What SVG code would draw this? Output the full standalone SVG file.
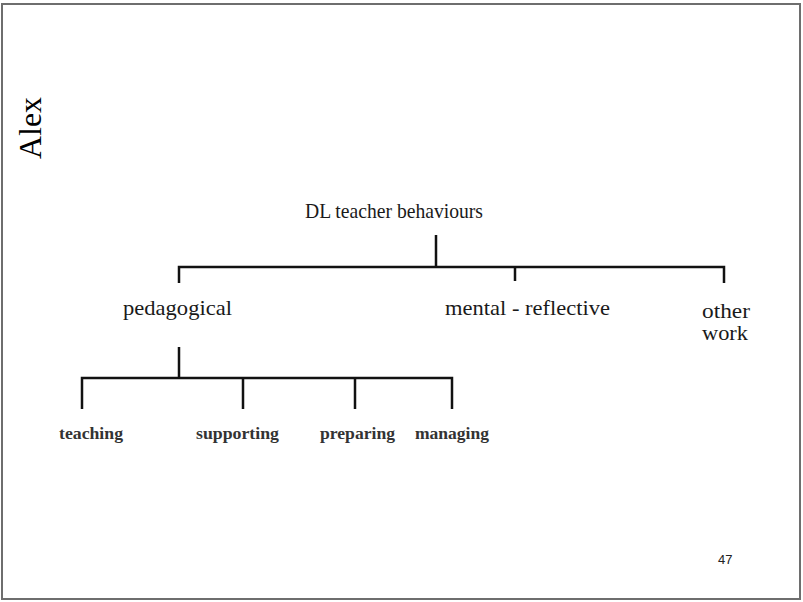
<svg xmlns="http://www.w3.org/2000/svg" width="803" height="602" viewBox="0 0 803 602">
  <style>
    .frame { fill: #ffffff; stroke: #6e6e6e; stroke-width: 2; }
    .title { font-family: "Liberation Serif", "Times New Roman", serif; font-size: 32px; fill: #000; }
    .lbl { font-family: "Liberation Serif", "Times New Roman", serif; font-size: 21px; fill: #1a1a1a; }
    .sub { font-family: "Liberation Serif", "Times New Roman", serif; font-size: 17px; font-weight: bold; fill: #333; }
    .page { font-family: "Liberation Sans", Arial, sans-serif; font-size: 13px; fill: #222; }
    .conn { fill: none; stroke: #111; stroke-width: 2.5; stroke-linecap: butt; stroke-linejoin: miter; }
  </style>

  <!-- slide frame -->
  <rect class="frame" x="2" y="4" width="798" height="595"/>

  <!-- vertical heading -->
  <text class="title" transform="translate(41,128) rotate(-90)" text-anchor="middle">Alex</text>

  <!-- tree connectors -->
  <g id="connectors">
    <path class="conn" d="M436 235 V267 M179 283 V267 H724 V283 M515 267 V281"/>
    <path class="conn" d="M179 347 V378 M82 409 V378 H452 V409 M243 378 V409 M355 378 V409"/>
  </g>

  <g id="root">
    <text class="lbl" x="305" y="218" textLength="178" lengthAdjust="spacingAndGlyphs">DL teacher behaviours</text>
  </g>
  <g id="pedagogical">
    <text class="lbl" x="123" y="315" textLength="109" lengthAdjust="spacingAndGlyphs">pedagogical</text>
  </g>
  <g id="mental-reflective">
    <text class="lbl" x="445" y="315" textLength="165" lengthAdjust="spacingAndGlyphs">mental - reflective</text>
  </g>
  <g id="other-work">
    <text class="lbl" x="702" y="318" textLength="48" lengthAdjust="spacingAndGlyphs">other</text>
    <text class="lbl" x="702" y="340" textLength="46" lengthAdjust="spacingAndGlyphs">work</text>
  </g>

  <g id="teaching">
    <text class="sub" x="59" y="439" textLength="64" lengthAdjust="spacingAndGlyphs">teaching</text>
  </g>
  <g id="supporting">
    <text class="sub" x="196" y="439" textLength="83" lengthAdjust="spacingAndGlyphs">supporting</text>
  </g>
  <g id="preparing">
    <text class="sub" x="320" y="439" textLength="75" lengthAdjust="spacingAndGlyphs">preparing</text>
  </g>
  <g id="managing">
    <text class="sub" x="415" y="439" textLength="74" lengthAdjust="spacingAndGlyphs">managing</text>
  </g>

  <!-- page number -->
  <text class="page" x="718" y="564">47</text>
</svg>
